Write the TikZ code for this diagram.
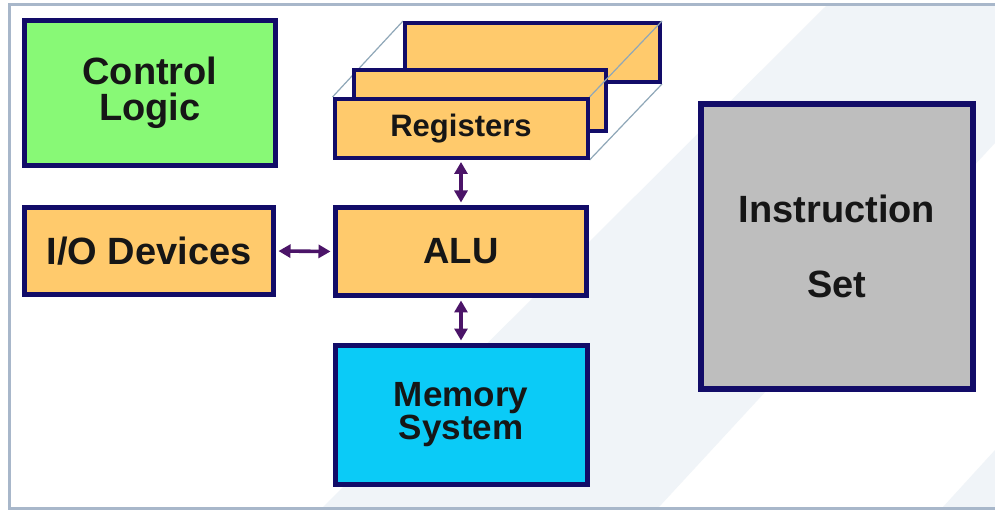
\documentclass[tikz,border=0pt]{standalone}
\usepackage{fontspec}
\setmainfont{Liberation Sans}
\usetikzlibrary{arrows.meta,backgrounds}

\definecolor{boxline}{RGB}{18,12,104}
\definecolor{regfill}{RGB}{255,202,108}
\definecolor{ctrlfill}{RGB}{136,249,118}
\definecolor{memfill}{RGB}{11,203,247}
\definecolor{instfill}{RGB}{190,190,190}
\definecolor{linkcol}{RGB}{75,20,104}
\definecolor{edgecol}{RGB}{143,167,184}
\definecolor{bandcol}{RGB}{240,244,248}
\definecolor{framecol}{RGB}{168,183,202}
\definecolor{txtcol}{RGB}{22,22,22}

\begin{document}
\begin{tikzpicture}[x=1pt,y=-1pt,
  every node/.style={align=center,text=txtcol,inner sep=0pt},
  unit/.style={draw=boxline,line width=5pt,fill=regfill},
  reg/.style={unit,line width=4pt,minimum height=59pt},
  link/.style={draw=linkcol,line width=3.6pt,{Triangle[length=12pt,width=13pt]}-{Triangle[length=12pt,width=13pt]}},
  edge/.style={draw=edgecol,line width=1.2pt}]

\useasboundingbox (0,0) rectangle (995,510);

\begin{scope}[on background layer]
\fill[white] (0,0) rectangle (995,510);
\fill[bandcol] (826,6)--(995,6)--(995,143)--(659,507)--(323,507)--cycle;
\fill[bandcol] (943,507)--(995,507)--(995,450)--cycle;
\draw[framecol,line width=3pt] (995,5) -| (9,508) -- (995,508);
\end{scope}

\node[unit,fill=ctrlfill,minimum width=251pt,minimum height=145pt,font=\bfseries\fontsize{38}{36}\selectfont] (ctrl) at (150,93) {Control\\Logic};
\node[unit,minimum width=249pt,minimum height=87pt,font=\bfseries\fontsize{38}{40}\selectfont] (io) at (149,251) {I/O Devices};
\node[unit,minimum width=251pt,minimum height=88pt,font=\bfseries\fontsize{36.5}{40}\selectfont] (alu) at (461,251.5) {ALU};
\node[unit,fill=memfill,minimum width=252pt,minimum height=139pt,font=\bfseries\fontsize{35}{33}\selectfont] (mem) at (461,415) {Memory\\System};
\node[unit,fill=instfill,line width=6pt,minimum width=272pt,minimum height=285pt,yshift=6pt,font=\bfseries\fontsize{38}{75}\selectfont] (inst) at (837,252.5) {Instruction\\Set};

\node[reg,minimum width=255pt] (regback) at (532.5,52.5) {};
\node[reg,minimum width=252pt,minimum height=61pt] (regmid) at (480,100.5) {};
\node[reg,minimum width=253pt,font=\bfseries\fontsize{31}{34}\selectfont] (regfront) at (461,128.5) {Registers};

\begin{scope}[on background layer]
\draw[edge] (regfront.north west) -- (regback.north west);
\draw[edge] (regfront.south east) -- (regback.south east);
\end{scope}
\draw[edge] (regback.north east) -- (regfront.north east);

\draw[link,shorten <=2pt,shorten >=2.5pt] (regfront.south) -- (alu.north);
\draw[link,shorten <=2.5pt,shorten >=2.5pt] (alu.south) -- (mem.north);
\draw[link,shorten <=2.5pt,shorten >=2.5pt] (io.east) -- (alu.west);

\end{tikzpicture}
\end{document}
